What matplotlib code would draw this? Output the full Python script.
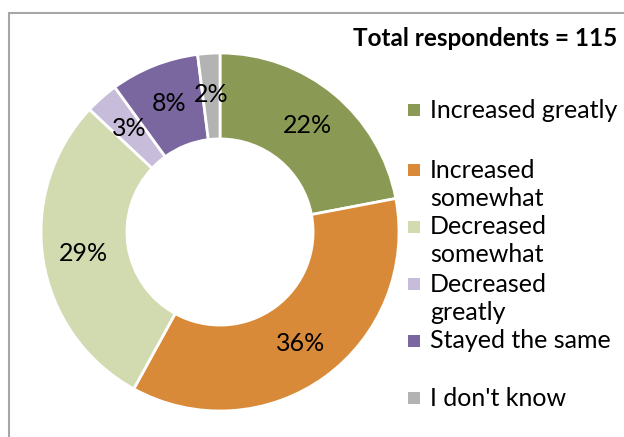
import numpy as np
import matplotlib.pyplot as plt
from matplotlib.patches import Rectangle

plt.rcParams['font.family'] = ['Lato', 'DejaVu Sans']

categories = ['Increased greatly', 'Increased\nsomewhat', 'Decreased\nsomewhat',
              'Decreased\ngreatly', 'Stayed the same', "I don't know"]
shares = [22, 36, 29, 3, 8, 2]
colors = ['#8A9A55', '#D98A38', '#D2DAB0', '#C7BDDA', '#7A67A0', '#B3B3B3']
total_respondents = 115

W, H = 624, 437
fig = plt.figure(figsize=(W / 100, H / 100), dpi=100)

# outer frame
fig.patches.append(Rectangle((9 / W, -0.01), 1.0, 1 - 13 / H + 0.01, transform=fig.transFigure,
                             fill=False, edgecolor='#A6A6A6', linewidth=1.5))

# donut: center (220, 232), outer radius 179 px
cx, cy, r = 220, 232, 179
ax = fig.add_axes([(cx - r) / W, (H - cy - r) / H, 2 * r / W, 2 * r / H])
wedges, texts = ax.pie(shares, colors=colors, startangle=90, counterclock=False,
                       wedgeprops=dict(width=0.48, edgecolor='white', linewidth=2))
ax.set_aspect('equal')
ax.set_xlim(-1, 1)
ax.set_ylim(-1, 1)

angle = 90.0
for val in shares:
    mid = np.deg2rad(angle - val * 3.6 / 2)
    rad = 0.77
    ax.text(rad * np.cos(mid), rad * np.sin(mid), f'{val}%', ha='center', va='center',
            fontsize=18, color='black')
    angle -= val * 3.6

fig.text(617 / W, 1 - 38 / H, f'Total respondents = {total_respondents}', ha='right',
         va='center', fontsize=17.5, fontweight='bold')

# legend
ys = [110, 170, 227, 284, 341, 398]
for lab, col, y in zip(categories, colors, ys):
    fig.patches.append(Rectangle((408 / W, 1 - (y + 6) / H), 12 / W, 12 / H,
                                 transform=fig.transFigure, facecolor=col, edgecolor='none'))
    for i, line in enumerate(lab.split('\n')):
        fig.text(430 / W, 1 - (y + i * 28) / H, line, ha='left', va='center',
                 fontsize=18)

fig.savefig('out.png', dpi=100)
